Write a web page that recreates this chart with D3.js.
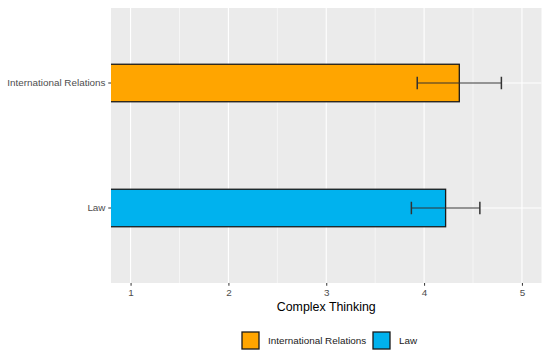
<!DOCTYPE html>
<html>
<head>
<meta charset="utf-8">
<script src="https://cdn.jsdelivr.net/npm/d3@7"></script>
<style>
  body { margin: 0; background: #fff; }
  text { font-family: "Liberation Sans", Arial, sans-serif; }
</style>
</head>
<body>
<div id="chart"></div>
<script>
// data
var categories = ["International Relations", "Law"];
var means = [4.36, 4.22];
var lower = [3.93, 3.87];
var upper = [4.79, 4.57];
var colours = ["#FFA500", "#00B2EE"];
var xTicks = [1, 2, 3, 4, 5];
var xTitle = "Complex Thinking";

var W = 550, H = 360;
var margin = {top: 8, right: 8.5, bottom: 77, left: 111};
var width = W - margin.left - margin.right,
    height = H - margin.top - margin.bottom;

var svg = d3.select("#chart").append("svg")
    .attr("width", W)
    .attr("height", H);

var g = svg.append("g")
    .attr("transform", "translate(" + margin.left + "," + margin.top + ")");

var x = d3.scaleLinear().domain([0.8, 5.2]).range([0, width]);
// discrete axis: positions 1..n with 0.6 expansion
var yPos = d3.scaleLinear().domain([0.4, categories.length + 0.6]).range([height, 0]);
function yOf(i) { return yPos(categories.length - i); }
var barH = yPos(0) - yPos(0.3);
var capH = yPos(0) - yPos(0.1);

g.append("clipPath").attr("id", "clip")
  .append("rect").attr("width", width).attr("height", height);

// panel background
g.append("rect")
    .attr("width", width)
    .attr("height", height)
    .attr("fill", "#EBEBEB");

// minor grid
var minor = d3.range(0.5, 5.6, 1).filter(function(v) { return v > 0.8 && v < 5.2; });
g.selectAll("line.minor").data(minor).enter().append("line")
    .attr("class", "minor")
    .attr("x1", function(d) { return x(d); })
    .attr("x2", function(d) { return x(d); })
    .attr("y1", 0).attr("y2", height)
    .attr("stroke", "#fff").attr("stroke-width", 0.55);

// major grid
g.selectAll("line.vmajor").data(xTicks).enter().append("line")
    .attr("class", "vmajor")
    .attr("x1", function(d) { return x(d); })
    .attr("x2", function(d) { return x(d); })
    .attr("y1", 0).attr("y2", height)
    .attr("stroke", "#fff").attr("stroke-width", 1.1);

g.selectAll("line.hmajor").data(categories).enter().append("line")
    .attr("class", "hmajor")
    .attr("x1", 0).attr("x2", width)
    .attr("y1", function(d, i) { return yOf(i); })
    .attr("y2", function(d, i) { return yOf(i); })
    .attr("stroke", "#fff").attr("stroke-width", 1.1);

// bars (start at 0, clipped by panel)
g.append("g").attr("clip-path", "url(#clip)")
  .selectAll("rect.bar").data(means).enter().append("rect")
    .attr("class", "bar")
    .attr("x", x(0))
    .attr("width", function(d) { return x(d) - x(0); })
    .attr("y", function(d, i) { return yOf(i) - barH / 2; })
    .attr("height", barH)
    .attr("fill", function(d, i) { return colours[i]; })
    .attr("stroke", "#1a1a1a")
    .attr("stroke-width", 1.3);

// error bars
var err = g.append("g").attr("stroke", "#333").attr("stroke-width", 1.1);
categories.forEach(function(c, i) {
  var cy = yOf(i);
  err.append("line")
      .attr("x1", x(lower[i])).attr("x2", x(upper[i]))
      .attr("y1", cy).attr("y2", cy);
  [lower[i], upper[i]].forEach(function(v) {
    err.append("line")
        .attr("x1", x(v)).attr("x2", x(v))
        .attr("y1", cy - capH / 2).attr("y2", cy + capH / 2)
        .attr("stroke-width", 1.5);
  });
});

// x axis
var xAxis = g.append("g")
    .attr("transform", "translate(0," + height + ")")
    .call(d3.axisBottom(x).tickValues(xTicks).tickSize(2.75).tickPadding(3).tickFormat(d3.format("d")));
xAxis.select(".domain").remove();
xAxis.selectAll("line").attr("stroke", "#333");
xAxis.selectAll("text").attr("fill", "#4D4D4D").style("font-size", "9.9px");

// y axis
var yAxisG = g.append("g");
categories.forEach(function(c, i) {
  var cy = yOf(i);
  yAxisG.append("line")
      .attr("x1", -2.75).attr("x2", 0)
      .attr("y1", cy).attr("y2", cy)
      .attr("stroke", "#333");
  yAxisG.append("text")
      .attr("x", -5.5).attr("y", cy)
      .attr("dy", "0.35em")
      .attr("text-anchor", "end")
      .attr("fill", "#4D4D4D")
      .style("font-size", "9.9px")
      .text(c);
});

// axis title
svg.append("text")
    .attr("x", margin.left + width / 2)
    .attr("y", margin.top + height + 27.5)
    .attr("text-anchor", "middle")
    .attr("fill", "#000")
    .style("font-size", "12.4px")
    .text(xTitle);

// legend
var legend = svg.append("g");
var keyX = [242, 373];
categories.forEach(function(c, i) {
  legend.append("rect")
      .attr("x", keyX[i]).attr("y", 332)
      .attr("width", 17).attr("height", 17)
      .attr("fill", colours[i])
      .attr("stroke", "#1a1a1a")
      .attr("stroke-width", 1.3);
  legend.append("text")
      .attr("x", keyX[i] + 26).attr("y", 340.5)
      .attr("dy", "0.35em")
      .attr("fill", "#1a1a1a")
      .style("font-size", "9.9px")
      .text(c);
});
</script>
</body>
</html>
